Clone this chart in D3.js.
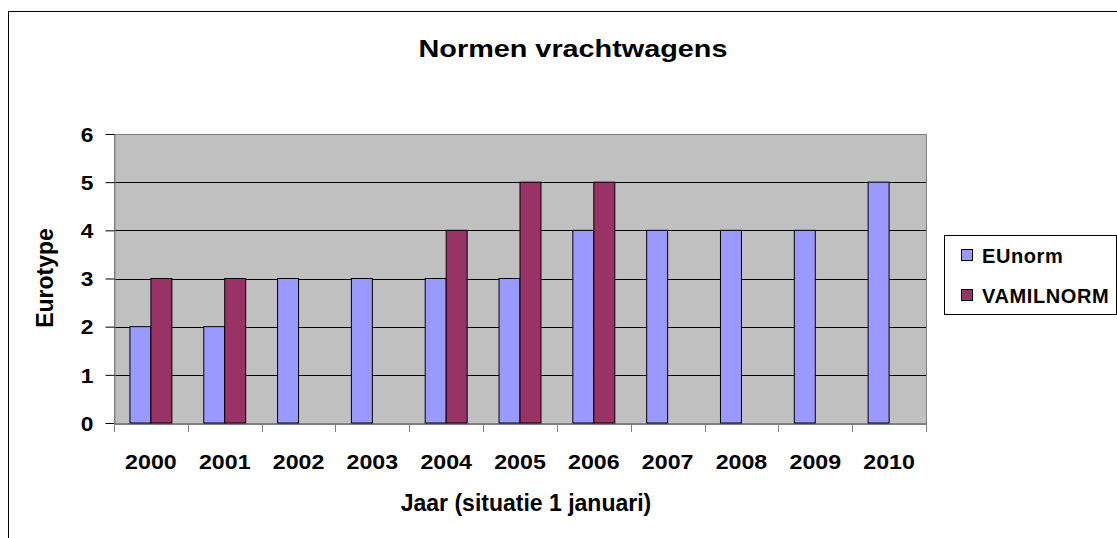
<!DOCTYPE html>
<html><head><meta charset="utf-8">
<script src="https://cdn.jsdelivr.net/npm/d3@7"></script>
<style>
body{margin:0;background:#fff;}
svg{display:block;font-family:"Liberation Sans",Arial,sans-serif;font-weight:bold;}
</style></head>
<body><svg id="c" width="1117" height="538"></svg>
<script>
const years = ["2000","2001","2002","2003","2004","2005","2006","2007","2008","2009","2010"];
const seriesNames = ["EUnorm","VAMILNORM"];
const euNorm = [2,2,3,3,3,3,4,4,4,4,5];
const vamilNorm = [3,3,null,null,4,5,5,null,null,null,null];
const yTicks = [0,1,2,3,4,5,6];
const colors = ["#9999FF","#993366"];
const title = "Normen vrachtwagens";
const xTitle = "Jaar (situatie 1 januari)";
const yTitle = "Eurotype";
const FF = "Liberation Sans, Arial, sans-serif";

function stretch(sel, f){
  sel.each(function(){
    const w = this.getComputedTextLength();
    d3.select(this).attr("textLength", w*f).attr("lengthAdjust","spacingAndGlyphs");
  });
}

const svg = d3.select("#c");
// outer border
svg.append("rect").attr("x",8.5).attr("y",11.5).attr("width",1120).attr("height",540)
  .attr("fill","#fff").attr("stroke","#000").attr("stroke-width",1);

const L=114, R=926, T=134, B=423;
const x0 = d3.scaleBand().domain(years).range([L,R]).padding(0);
const x1 = d3.scaleBand().domain(seriesNames).range([0,x0.bandwidth()]).paddingInner(0).paddingOuter(0.76);
const y = d3.scaleLinear().domain([0,6]).range([B,T]);

svg.append("rect").attr("x",L).attr("y",T).attr("width",R-L).attr("height",B-T).attr("fill","#C0C0C0");
// gridlines
svg.append("g").selectAll("line").data(yTicks.filter(v=>v>0&&v<6)).join("line")
  .attr("x1",L).attr("x2",R).attr("y1",d=>Math.round(y(d))+0.5).attr("y2",d=>Math.round(y(d))+0.5)
  .attr("stroke","#000").attr("stroke-width",1);
// plot border (grey)
svg.append("path").attr("d",`M${L+0.5},${B}V${T+0.5}H${R+0.5}V${B}`).attr("fill","none").attr("stroke","#808080").attr("stroke-width",1);

const data = [euNorm, vamilNorm];
seriesNames.forEach((s,si)=>{
  svg.append("g").selectAll("rect").data(years.map((yr,i)=>({yr,v:data[si][i]})).filter(d=>d.v!=null)).join("rect")
    .attr("x",d=>x0(d.yr)+x1(s)).attr("width",x1.bandwidth())
    .attr("y",d=>y(d.v)).attr("height",d=>y(0)-y(d.v))
    .attr("fill",colors[si]).attr("stroke","#000").attr("stroke-width",1);
});

// y axis
const ya = svg.append("g").attr("transform",`translate(${L+0.5},0)`)
  .call(d3.axisLeft(y).tickValues(yTicks).tickSize(9).tickPadding(12).tickFormat(d3.format("d")));
ya.select(".domain").attr("stroke","#808080");
ya.selectAll(".tick line").attr("stroke","#000");
ya.selectAll("text").attr("font-size",20).attr("font-weight","bold").attr("fill","#000").attr("font-family",FF).attr("dy","0.36em");
stretch(ya.selectAll("text"),1.14);

// x axis
const xa = svg.append("g").attr("transform",`translate(0,${B+0.5})`)
  .call(d3.axisBottom(x0).tickSize(0).tickPadding(31));
xa.select(".domain").attr("stroke","#000");
xa.selectAll("text").attr("font-size",20).attr("font-weight","bold").attr("fill","#000").attr("font-family",FF);
stretch(xa.selectAll("text"),1.16);
svg.append("g").selectAll("line").data(years.concat(["end"])).join("line")
  .attr("x1",(d,i)=>Math.round(L+i*x0.step())+0.5).attr("x2",(d,i)=>Math.round(L+i*x0.step())+0.5)
  .attr("y1",B).attr("y2",B+9).attr("stroke","#808080");

// titles
const t1 = svg.append("text").attr("x",573).attr("y",57).attr("text-anchor","middle").attr("font-size",24).text(title);
stretch(t1,1.2);
svg.append("text").attr("x",526).attr("y",511).attr("text-anchor","middle").attr("font-size",23).text(xTitle);
svg.append("text").attr("transform","translate(53,278) rotate(-90)").attr("text-anchor","middle").attr("font-size",23).text(yTitle);

// legend
svg.append("rect").attr("x",944.5).attr("y",235.5).attr("width",172).attr("height",79).attr("fill","#fff").attr("stroke","#000");
seriesNames.forEach((s,i)=>{
  const yy = 263 + i*40;
  svg.append("rect").attr("x",961.5).attr("y",yy-13.5).attr("width",11).attr("height",11).attr("fill",colors[i]).attr("stroke","#000");
  svg.append("text").attr("x",982).attr("y",yy).attr("font-size",20).attr("letter-spacing",0.6).text(s);
});
</script></body></html>
